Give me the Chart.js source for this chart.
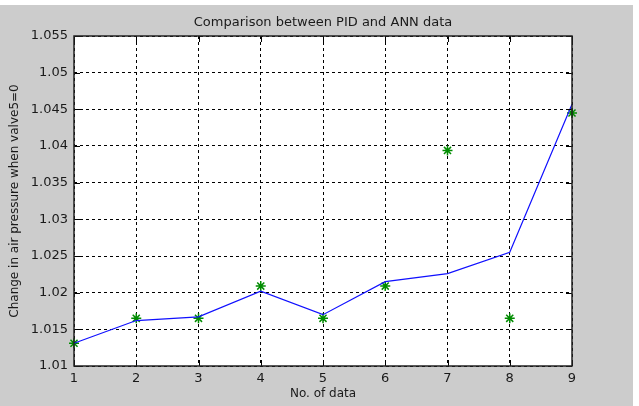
<!DOCTYPE html>
<html>
<head>
<meta charset="utf-8">
<title>Comparison between PID and ANN data</title>
<script src="https://cdn.jsdelivr.net/npm/chart.js@4.4.1/dist/chart.umd.min.js"></script>
<style>
  html, body { margin: 0; padding: 0; background: #fff; }
  canvas { display: block; }
</style>
</head>
<body>
<canvas id="pidChart" width="639" height="406"></canvas>
<script>
// data
const dataLabels = ['1', '2', '3', '4', '5', '6', '7', '8', '9'];
const pidValues = [1.0131, 1.0162, 1.0167, 1.0202, 1.0170, 1.0215, 1.0226, 1.0255, 1.0457];
const annValues = [1.0131, 1.0165, 1.0165, 1.0209, 1.0165, 1.0209, 1.0394, 1.0165, 1.0445];
const yTicks = [1.01, 1.015, 1.02, 1.025, 1.03, 1.035, 1.04, 1.045, 1.05, 1.055];

const fontFamily = "'DejaVu Sans', Arial, Helvetica, sans-serif";
const textColor = '#1a1a1a';

// grey figure background + white axes box
const figureBackground = {
    id: 'figureBackground',
    beforeDraw(chart) {
        const { ctx, chartArea } = chart;
        ctx.save();
        ctx.fillStyle = '#ffffff';
        ctx.fillRect(0, 0, chart.width, chart.height);
        ctx.fillStyle = '#cccccc';
        ctx.fillRect(0, 5, chart.width - 6, chart.height - 5);
        ctx.fillStyle = '#ffffff';
        ctx.fillRect(chartArea.left, chartArea.top, chartArea.right - chartArea.left, chartArea.bottom - chartArea.top);
        ctx.restore();
    }
};

// axes frame with inward tick marks, matlab style
const axesFrame = {
    id: 'axesFrame',
    afterDraw(chart) {
        const { ctx, chartArea } = chart;
        const { left, right, top, bottom } = chartArea;
        const x = chart.scales.x;
        const y = chart.scales.y;
        const len = 6;
        ctx.save();
        ctx.strokeStyle = '#000';
        ctx.lineWidth = 1;
        ctx.beginPath();
        x.ticks.forEach((t, i) => {
            const px = Math.round(x.getPixelForTick(i)) + 0.5;
            ctx.moveTo(px, bottom);
            ctx.lineTo(px, bottom - len);
            ctx.moveTo(px, top);
            ctx.lineTo(px, top + len);
        });
        y.ticks.forEach((t, i) => {
            const py = Math.round(y.getPixelForTick(i)) + 0.5;
            ctx.moveTo(left, py);
            ctx.lineTo(left + len, py);
            ctx.moveTo(right, py);
            ctx.lineTo(right - len, py);
        });
        ctx.stroke();
        ctx.strokeStyle = '#222';
        ctx.lineWidth = 1.5;
        ctx.strokeRect(left, top, right - left, bottom - top);
        ctx.restore();
    }
};

const ctx = document.getElementById('pidChart').getContext('2d');
new Chart(ctx, {
    type: 'line',
    data: {
        labels: dataLabels,
        datasets: [{
            label: 'PID',
            data: pidValues,
            borderColor: '#1010ff',
            borderWidth: 1.2,
            pointRadius: 0,
            tension: 0,
            fill: false
        }, {
            label: 'ANN',
            data: annValues,
            showLine: false,
            pointStyle: 'star',
            pointRadius: 5,
            pointBorderWidth: 1.5,
            pointBorderColor: 'rgb(0,140,0)',
            pointBackgroundColor: 'rgb(0,140,0)',
            clip: false
        }]
    },
    options: {
        responsive: false,
        animation: false,
        devicePixelRatio: 1,
        layout: { padding: { top: 0, right: 67, bottom: 0, left: 0 } },
        plugins: {
            legend: { display: false },
            tooltip: { enabled: false },
            title: {
                display: true,
                text: 'Comparison between PID and ANN data',
                color: textColor,
                fullSize: false,
                font: { family: fontFamily, size: 13, weight: 'normal' },
                padding: { top: 15, bottom: 5.4 }
            }
        },
        scales: {
            x: {
                type: 'category',
                offset: false,
                grid: { color: '#000', lineWidth: 1, drawTicks: false },
                border: { display: false, dash: [3, 3] },
                ticks: {
                    color: textColor,
                    padding: 5,
                    maxRotation: 0,
                    font: { family: fontFamily, size: 13 }
                },
                title: {
                    display: true,
                    text: 'No. of data',
                    color: textColor,
                    font: { family: fontFamily, size: 12 },
                    padding: { top: 0, bottom: 5 }
                },
                afterFit(scale) { scale.height = 40; }
            },
            y: {
                min: 1.01,
                max: 1.055,
                grid: { color: '#000', lineWidth: 1, drawTicks: false },
                border: { display: false, dash: [3, 3] },
                afterBuildTicks(scale) {
                    scale.ticks = yTicks.map(v => ({ value: v }));
                },
                ticks: {
                    color: textColor,
                    padding: 6,
                    font: { family: fontFamily, size: 13 },
                    callback: v => String(Number(v.toFixed(3)))
                },
                title: {
                    display: true,
                    text: 'Change in air pressure when valve5=0',
                    color: textColor,
                    font: { family: fontFamily, size: 12 },
                    padding: { top: 8, bottom: 0 }
                },
                afterFit(scale) { scale.width = 74; }
            }
        }
    },
    plugins: [figureBackground, axesFrame]
});
</script>
</body>
</html>
